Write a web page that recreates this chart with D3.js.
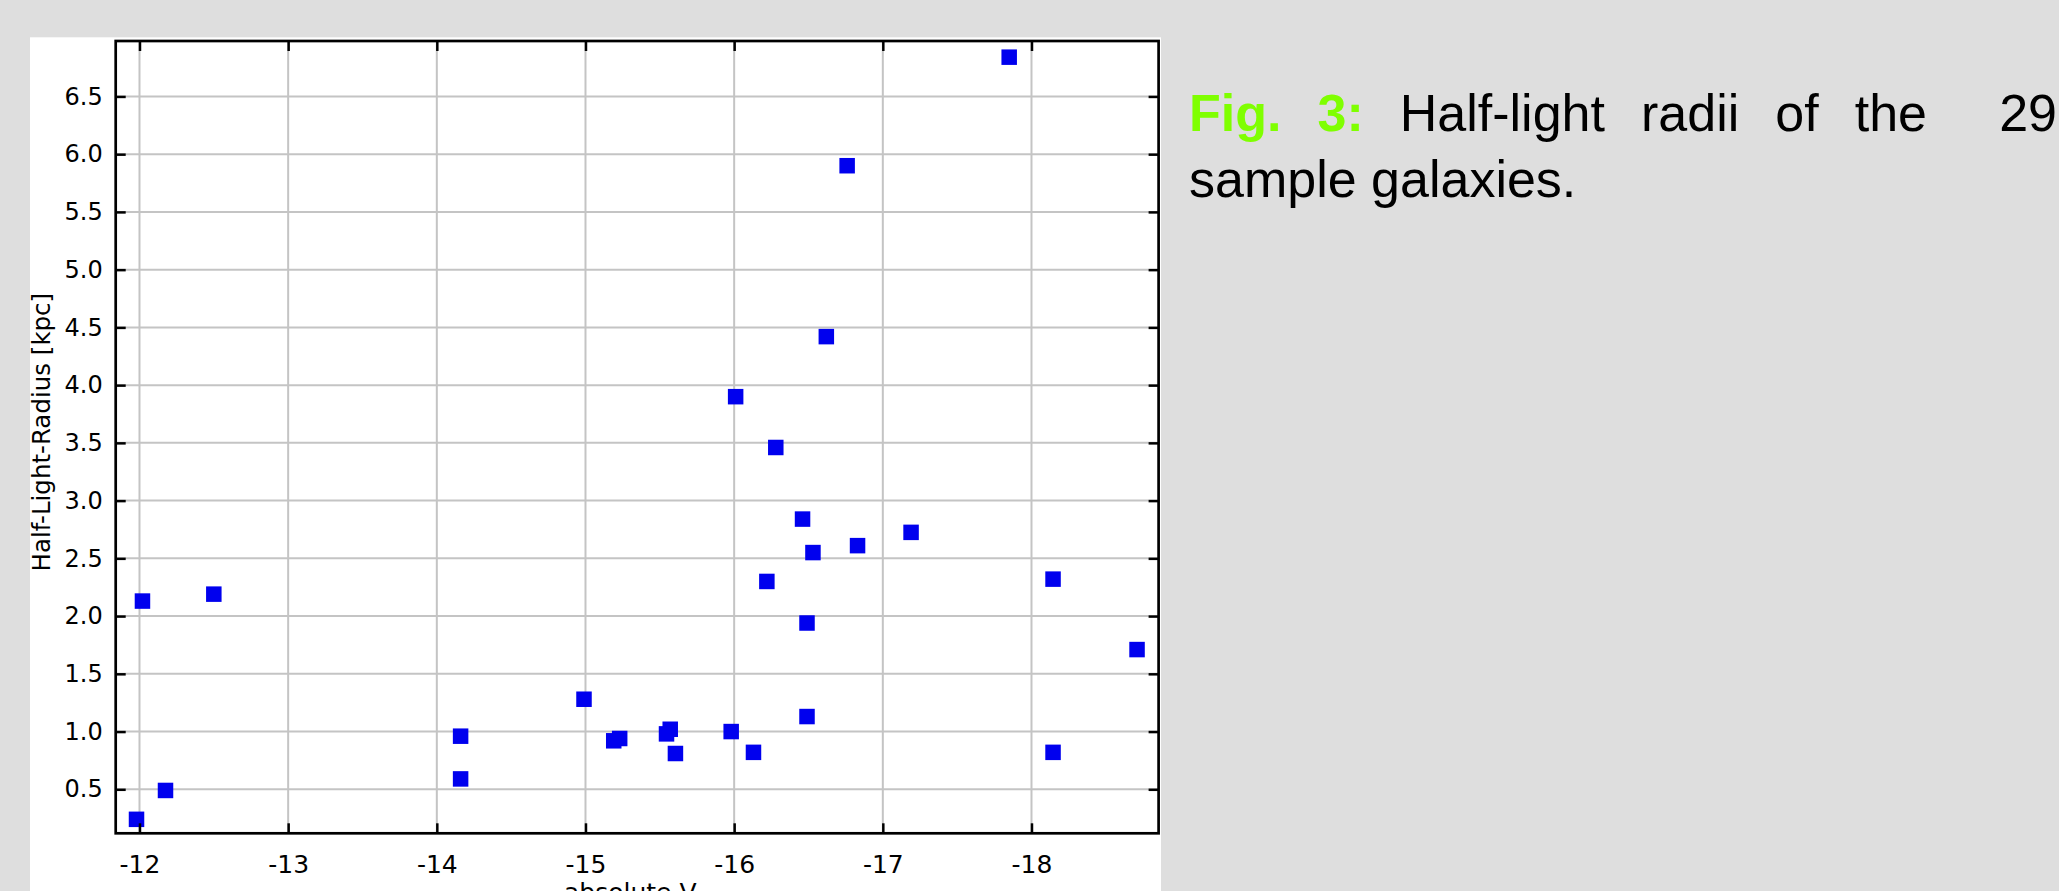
<!DOCTYPE html>
<html>
<head>
<meta charset="utf-8">
<script src="https://cdn.jsdelivr.net/npm/d3@7"></script>
<style>
  body { margin: 0; background: #dedede; overflow: hidden; width: 2059px; height: 891px; }
  #chart { position: absolute; left: 0; top: 0; }
  #caption {
    position: absolute; left: 1189px; top: 80px; width: 868px;
    font-family: "Liberation Sans", Arial, sans-serif; font-size: 52px; line-height: 66px;
    text-align: justify; color: #000;
  }
  #caption .fig { color: #7fff00; font-weight: bold; }
</style>
</head>
<body>
<svg id="chart"></svg>
<div id="caption"><span class="fig">Fig. 3:</span> Half-light radii of the&nbsp; 29 sample galaxies.</div>
<script>
// absolute V magnitude and half-light radius (kpc) of the 29 galaxies
const absMag = [-12.02, -12.50, -12.175, -11.98, -14.16, -14.16, -14.99, -15.19, -15.23, -15.545,
                -15.57, -15.605, -16.28, -16.46, -17.19, -16.83, -16.53, -16.22, -18.145, -16.49,
                -18.71, -16.49, -15.98, -16.13, -18.145, -17.85, -16.76, -16.62, -16.01];
const radius = [2.13, 2.19, 0.49, 0.24, 0.96, 0.59, 1.28, 0.92, 0.94, 0.98,
                1.02, 0.81, 3.46, 2.84, 2.725, 2.61, 2.55, 2.30, 2.32, 1.94,
                1.71, 1.13, 1.00, 0.82, 0.82, 6.84, 5.90, 4.42, 3.90];

const xTicks = [-12, -13, -14, -15, -16, -17, -18];
const yTicks = [0.5, 1.0, 1.5, 2.0, 2.5, 3.0, 3.5, 4.0, 4.5, 5.0, 5.5, 6.0, 6.5];
const xDomain = [-11.84, -18.855];
const yDomain = [0.119, 6.98];

const width = 2059, height = 891;
const plotLeft = 115.7, plotRight = 1158.6, plotTop = 41, plotBottom = 833.3;

const svg = d3.select("#chart")
    .attr("width", width)
    .attr("height", height)
    .attr("font-family", "DejaVu Sans, sans-serif");

// white figure panel
svg.append("rect")
    .attr("x", 30).attr("y", 37.3)
    .attr("width", 1131).attr("height", height)
    .attr("fill", "white");

const x = d3.scaleLinear().domain(xDomain).range([plotLeft, plotRight]);
const y = d3.scaleLinear().domain(yDomain).range([plotBottom, plotTop]);

// grid
const grid = svg.append("g").attr("stroke", "#c4c4c4").attr("stroke-width", 2);
grid.selectAll(".vx").data(xTicks).join("line")
    .attr("class", "vx")
    .attr("x1", d => x(d)).attr("x2", d => x(d))
    .attr("y1", plotTop).attr("y2", plotBottom);
grid.selectAll(".hy").data(yTicks).join("line")
    .attr("class", "hy")
    .attr("x1", plotLeft).attr("x2", plotRight)
    .attr("y1", d => y(d)).attr("y2", d => y(d));

// points
svg.append("g")
    .selectAll("rect")
    .data(absMag)
    .join("rect")
      .attr("x", d => x(d) - 7.75)
      .attr("y", (d, i) => y(radius[i]) - 7.75)
      .attr("width", 15.5)
      .attr("height", 15.5)
      .attr("fill", "#0000ee");

// axes, ticks pointing inward on all four sides
const styleAxis = g => {
    g.select(".domain").remove();
    g.selectAll(".tick line").attr("stroke", "black").attr("stroke-width", 2.5);
    g.selectAll(".tick text").attr("fill", "black");
};

svg.append("g")
    .attr("transform", `translate(0, ${plotBottom})`)
    .call(d3.axisBottom(x).tickValues(xTicks).tickSize(-10).tickPadding(22).tickFormat(d => String(d)))
    .attr("font-size", 25)
    .attr("font-family", null)
    .call(styleAxis);

svg.append("g")
    .attr("transform", `translate(0, ${plotTop})`)
    .call(d3.axisTop(x).tickValues(xTicks).tickSize(-10).tickFormat(""))
    .call(styleAxis);

svg.append("g")
    .attr("transform", `translate(${plotLeft}, 0)`)
    .call(d3.axisLeft(y).tickValues(yTicks).tickSize(-10).tickPadding(13).tickFormat(d3.format(".1f")))
    .attr("font-size", 24)
    .attr("font-family", null)
    .call(styleAxis);

svg.append("g")
    .attr("transform", `translate(${plotRight}, 0)`)
    .call(d3.axisRight(y).tickValues(yTicks).tickSize(-10).tickFormat(""))
    .call(styleAxis);

// frame
svg.append("rect")
    .attr("x", plotLeft).attr("y", plotTop)
    .attr("width", plotRight - plotLeft).attr("height", plotBottom - plotTop)
    .attr("fill", "none")
    .attr("stroke", "black")
    .attr("stroke-width", 2.7);

// axis titles
svg.append("text")
    .attr("transform", `translate(50, ${(plotTop + plotBottom) / 2 - 5}) rotate(-90)`)
    .attr("text-anchor", "middle")
    .attr("font-size", 24.5)
    .text("Half-Light-Radius [kpc]");

svg.append("text")
    .attr("x", 564)
    .attr("y", 901)
    .attr("font-size", 25)
    .text("absolute V");
</script>
</body>
</html>
